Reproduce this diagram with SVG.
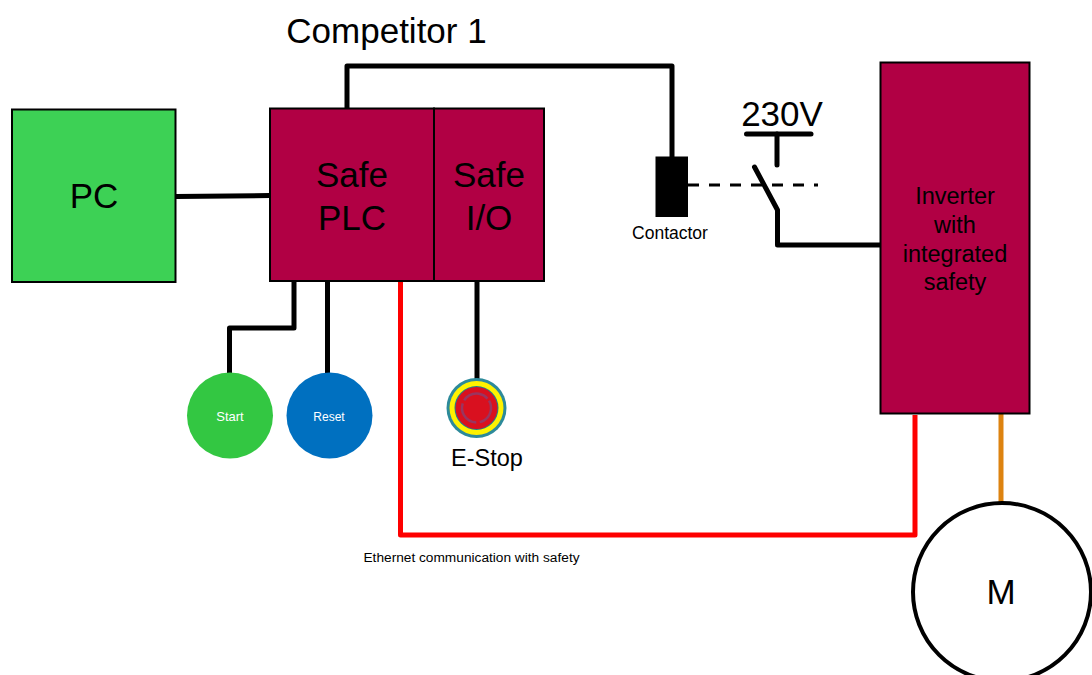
<svg xmlns="http://www.w3.org/2000/svg" width="1092" height="675" viewBox="0 0 1092 675">
<style>
text{font-family:"Liberation Sans",Arial,sans-serif;text-anchor:middle;fill:#000}
.box{fill:#b10044;stroke:#000;stroke-width:2}
.w{fill:none;stroke:#000;stroke-width:5;stroke-linecap:round;stroke-linejoin:round}
.r{fill:none;stroke:#fe0000;stroke-width:5;stroke-linejoin:round}
.big{font-size:35px}
.inv{font-size:23.5px}
</style>
<rect width="1092" height="675" fill="#fff"/>
<text x="386.500" y="43" font-size="35">Competitor 1</text>
<g id="connectors">
<path class="w" d="M176 196.500L270 195.500"/>
<path class="w" d="M347 110V66H672V158"/>
<path class="w" d="M294 282V328H229.500V373"/>
<path class="w" d="M327.500 282V373"/>
<path class="w" d="M477 282V379"/>
<path class="r" d="M400.500 281V535H915V415"/>
<path fill="none" stroke="#dd8310" stroke-width="5" d="M1001 414V503"/>
<path fill="none" stroke="#000" stroke-width="3" stroke-dasharray="11 10" d="M688 185H818"/>
<path class="w" d="M754.500 167L777.500 210V245H880"/>
<path class="w" d="M746.500 134H811"/>
<path class="w" d="M777 134V165"/>
</g>
<g id="pc"><rect x="12" y="109.500" width="163.500" height="172.500" fill="#3dd155" stroke="#000" stroke-width="2"/><text x="94" y="208" class="big">PC</text></g>
<g id="safe-plc"><rect class="box" x="270" y="108.500" width="164" height="172.500"/><text x="352" y="187" class="big">Safe</text><text x="352" y="230" class="big">PLC</text></g>
<g id="safe-io"><rect class="box" x="434" y="108.500" width="110" height="172.500"/><text x="489" y="187" class="big">Safe</text><text x="489" y="230" class="big">I/O</text></g>
<g id="contactor"><rect x="655.500" y="156.500" width="32.500" height="60.500" fill="#000"/><text x="670" y="238.500" font-size="17.500">Contactor</text></g>
<text x="782" y="126" font-size="35">230V</text>
<g id="inverter"><rect class="box" x="880.500" y="62.500" width="149" height="351"/><text x="955" y="204" class="inv">Inverter</text><text x="955" y="233" class="inv">with</text><text x="955" y="262" class="inv">integrated</text><text x="955" y="290" class="inv">safety</text></g>
<g id="start"><circle cx="230" cy="415.500" r="43" fill="#33c742"/><text x="230" y="421" font-size="13" style="fill:#fff">Start</text></g>
<g id="reset"><circle cx="329.500" cy="415.500" r="43" fill="#0070c0"/><text x="329" y="421" font-size="12" style="fill:#fff">Reset</text></g>
<g id="e-stop">
<circle cx="476.500" cy="408" r="30" fill="#2d8a9a"/><circle cx="476.500" cy="408" r="27" fill="#fff200"/><circle cx="476.500" cy="408" r="22" fill="#1f7f8e"/><circle cx="476.500" cy="408" r="21" fill="#d9101f"/>
<circle cx="476.500" cy="408" r="14.500" fill="none" stroke="#9a3560" stroke-width="2.500" stroke-dasharray="27 3.400" transform="rotate(-30 476.500 408)"/>
<text x="487" y="466" font-size="23.500">E-Stop</text></g>
<text x="471.500" y="562" font-size="13.700">Ethernet communication with safety</text>
<g id="motor"><circle cx="1002" cy="592" r="89" fill="#fff" stroke="#000" stroke-width="4"/><text x="1001" y="604" font-size="35">M</text></g>
</svg>
